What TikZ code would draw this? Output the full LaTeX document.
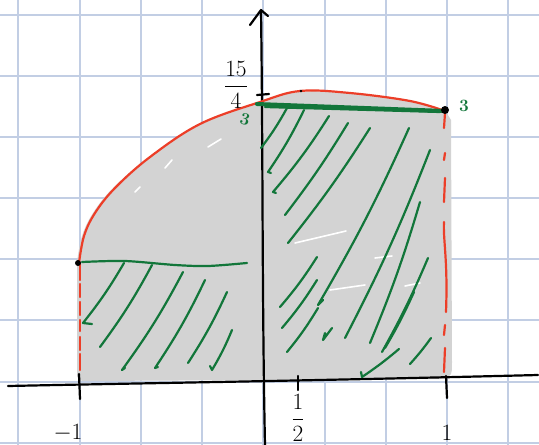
\documentclass[tikz,border=0pt]{standalone}
\usepackage{amsmath}
\usepackage{graphicx}
\definecolor{gridc}{RGB}{194,206,228}
\definecolor{redc}{RGB}{236,62,40}
\definecolor{greenc}{RGB}{18,118,58}
\definecolor{fillc}{RGB}{211,211,211}
\newcommand{\biglbl}[1]{\scalebox{1.35}{#1}}
\tikzset{
  gridline/.style={gridc, line width=1.1pt},
  axisline/.style={black, line width=2.2pt, line cap=round, line join=round},
  redline/.style={redc, line width=2.2pt, line cap=round, line join=round},
  hatch/.style={greenc, line width=2.2pt, line cap=round, line join=round},
  streak/.style={white, line width=1.6pt, line cap=round},
  lbl/.style={font=\LARGE, inner sep=0pt},
  glbl/.style={greenc, font=\LARGE\bfseries, inner sep=0pt}
}
\begin{document}
\begin{tikzpicture}[x=1pt,y=-1pt]
\useasboundingbox (0,0) rectangle (539,445);
% grid
\foreach \gx in {18,80,141,202,263,325,386,447,508}
  \draw[gridline] (\gx,0) -- (\gx,445);
\foreach \gy in {15,76,137,198,259,320,382,443}
  \draw[gridline] (0,\gy) -- (539,\gy);
% gray region
\fill[fillc] plot[smooth, tension=0.6] coordinates {(77,262) (82,236) (93,213) (113,188) (148,158) (198,125) (258,103) (298,92) (348,93) (408,100) (446,112)}
  -- (451,120) -- (452,362) .. controls (452,376) .. (440,379) -- (90,381) .. controls (77,381) .. (77,370) -- cycle;
% white streaks
\draw[streak] (295,243) -- (346,231);
\draw[streak] (330,290) -- (365,285);
\draw[streak] (375,258) -- (392,256);
\draw[streak] (165,168) -- (172,160);
\draw[streak] (208,147) -- (221,139);
\draw[streak] (135,192) -- (140,187);
\draw[streak] (405,286) -- (420,283);
% axes
\draw[axisline] (8,386) .. controls (150,383) and (300,381) .. (538,375);
\draw[axisline] (265,445) .. controls (262,300) and (263,150) .. (261,11);
\draw[axisline] (250,25) -- (261,10) -- (268,16);
% ticks
\draw[axisline] (79,374) -- (80,399);
\draw[axisline] (298,376) -- (298,390);
\draw[axisline] (446,376) -- (447,398);
\draw[axisline] (257,95) -- (269,94);
% green hatch, right region
\draw[hatch] (287,108) to[bend left=4] (261,148);
\draw[hatch] (304,110) to[bend left=4] (268,172) -- (271,173);
\draw[hatch] (329,116) to[bend left=4] (273,192) -- (276,193);
\draw[hatch] (348,123) to[bend left=3] (285,215);
\draw[hatch] (370,128) to[bend left=3] (288,243);
\draw[hatch] (409,128) to[bend left=3] (318,305) -- (323,300);
\draw[hatch] (430,150) to[bend left=3] (345,338);
\draw[hatch] (420,202) to[bend left=3] (370,343);
\draw[hatch] (428,258) to[bend left=3] (382,352);
\draw[hatch] (414,292) to[bend left=3] (385,348);
\draw[hatch] (431,338) to[bend left=3] (410,364);
\draw[hatch] (399,349) to[bend left=3] (362,377) -- (361,372);
\draw[hatch] (317,257) to[bend left=4] (280,307);
\draw[hatch] (317,280) to[bend left=4] (282,328);
\draw[hatch] (332,328) -- (323,340) -- (325,333);
\draw[hatch] (318,308) to[bend left=4] (287,352);
% green hatch, left region
\draw[hatch] (124,263) to[bend left=4] (83,323) -- (92,324);
\draw[hatch] (152,265) to[bend left=4] (100,347);
\draw[hatch] (183,272) to[bend left=4] (122,370) -- (125,368);
\draw[hatch] (205,280) to[bend left=4] (155,368) -- (158,367);
\draw[hatch] (227,292) to[bend left=4] (188,363);
\draw[hatch] (232,330) to[bend left=4] (212,370) -- (210,366);
% red curve and dashed verticals
\draw[redline] plot[smooth, tension=0.6] coordinates {(79,263) (84,236) (95,213) (115,188) (150,157) (200,124) (260,102) (300,91) (350,93) (410,101) (445,111)};
\foreach \ya/\yb in {263/280,284/297,302/315,320/331,337/350,354/370}
  \draw[redline] (80,\ya) -- (80,\yb);
\foreach \ya/\yb in {113/128,153/160,178/202,325/335,348/372}
  \draw[redline] (445,\ya) -- (444,\yb);
\draw[redline] (444,222) .. controls (443,240) and (448,260) .. (446,312);
% green lines
\draw[hatch, line width=4pt] (257,104) -- (445,111);
\draw[hatch] (265,107) -- (440,112);
\draw[hatch] plot[smooth] coordinates {(82,262) (125,261) (175,265) (208,266) (247,263)};
% dots
\fill (78,263) circle (3pt);
\fill (445,110) circle (4pt);
\fill (301,91) circle (1.4pt);
% labels
\node[lbl] (l15) at (236,85) {\biglbl{$\displaystyle\frac{15}{4}$}};
\node[lbl] (lm1) at (68,433) {\biglbl{$-1$}};
\node[lbl] (lhalf) at (298,418) {\biglbl{$\displaystyle\frac{1}{2}$}};
\node[lbl] (lone) at (447,433) {\biglbl{$1$}};
\node[glbl, rotate=-15] (g3a) at (245,119) {3};
\node[glbl] (g3b) at (464,106) {3};
\end{tikzpicture}
\end{document}
